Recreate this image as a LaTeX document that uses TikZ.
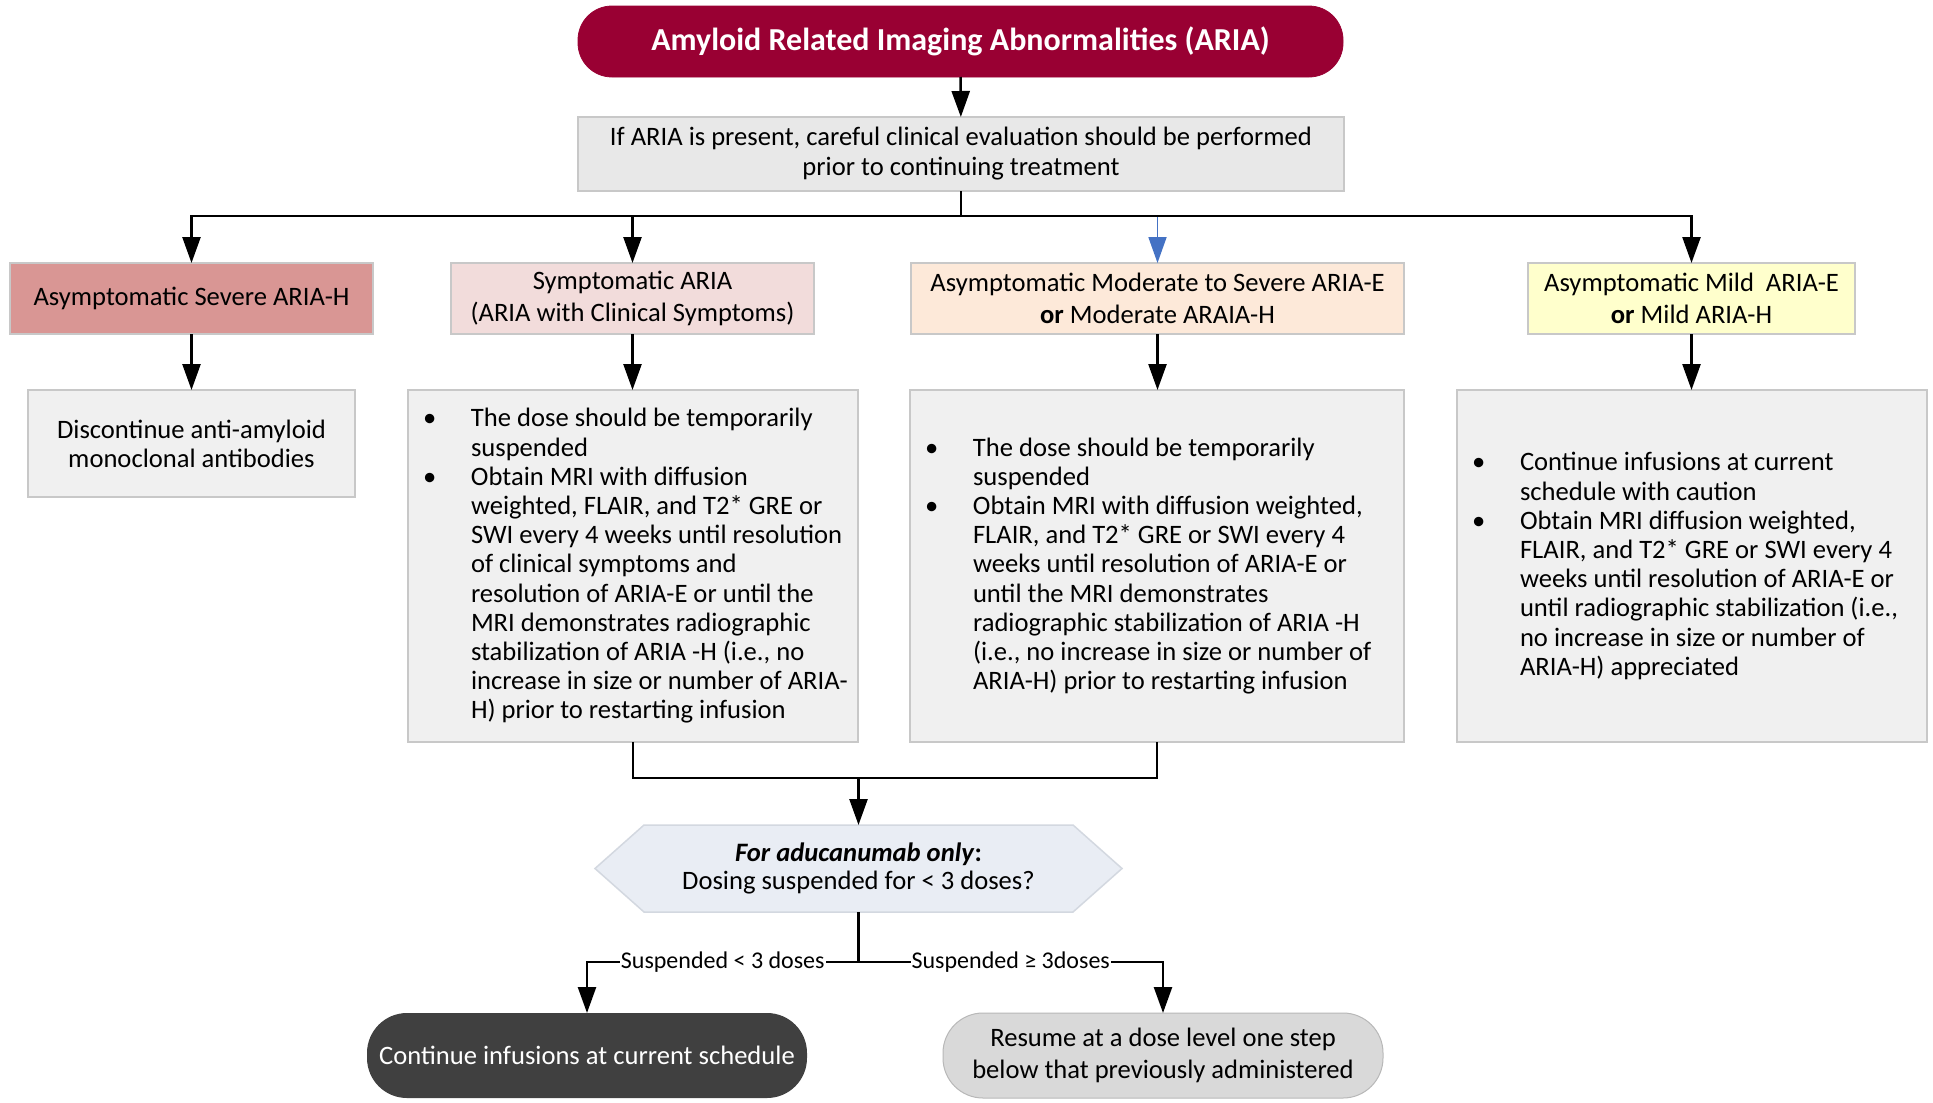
\documentclass[tikz,border=0pt]{standalone}
\usepackage{fontspec}
\setmainfont{Carlito}
\usetikzlibrary{arrows.meta,calc,backgrounds}
\definecolor{titlefill}{HTML}{990033}
\definecolor{evalfill}{HTML}{E8E8E8}
\definecolor{boxline}{HTML}{C8C8C8}
\definecolor{catA}{HTML}{D99694}
\definecolor{catB}{HTML}{F2DCDB}
\definecolor{catC}{HTML}{FDE9D9}
\definecolor{catD}{HTML}{FFFFCC}
\definecolor{contfill}{HTML}{F0F0F0}
\definecolor{hexfill}{HTML}{E9EDF4}
\definecolor{hexline}{HTML}{D3D8E0}
\definecolor{darkfill}{HTML}{404040}
\definecolor{lightfill}{HTML}{D9D9D9}
\definecolor{arrowblue}{HTML}{4472C4}
\newcommand\bl{\makebox[31.5pt][l]{\hspace{7.5pt}•}}
\newcommand\ind{\makebox[31.5pt]{}}
\begin{document}
\begin{tikzpicture}[x=0.5pt,y=-0.5pt,
  every node/.style={inner sep=0pt, outer sep=0pt},
  basebox/.style={rectangle, draw=boxline, line width=0.75pt, align=center, font=\fontsize{13.3}{16}\selectfont},
  titlebox/.style={rectangle, rounded corners=17pt, fill=titlefill, draw=titlefill, text=white, font=\fontsize{16}{19}\selectfont\bfseries},
  evalbox/.style={basebox, fill=evalfill, font=\fontsize{13.3}{15}\selectfont},
  catbox/.style={basebox, minimum height=35.5pt},
  contbox/.style={basebox, fill=contfill},
  bultext/.style={align=left, font=\fontsize{13.3}{14.6}\selectfont},
  endbox/.style={rectangle, rounded corners=20pt, minimum width=220pt, minimum height=42.5pt, align=center, font=\fontsize{13.3}{16}\selectfont},
  conn/.style={line width=1.25pt, draw=black},
  arr/.style={conn, -{Triangle[length=13pt,width=9pt]}},
  arrblue/.style={line width=0.9pt, draw=arrowblue, -{Triangle[length=13pt,width=9pt,fill=arrowblue]}},
  lab/.style={fill=white, inner xsep=0.5pt, inner ysep=1pt, font=\fontsize{12}{14}\selectfont}
]
\useasboundingbox (0,0) rectangle (1933,1103);

% top
\node[titlebox, minimum width=382.5pt, minimum height=35.5pt] (title) at (960.5,41.5) {Amyloid Related Imaging Abnormalities (ARIA)};
\node[evalbox, minimum width=383pt, minimum height=37pt] (eval) at (961,154) {If ARIA is present, careful clinical evaluation should be performed\\prior to continuing treatment};

% categories
\node[catbox, fill=catA, minimum width=181.5pt] (c1) at (191.5,298.5) {Asymptomatic Severe ARIA-H};
\node[catbox, fill=catB, minimum width=181.5pt] (c2) at (632.5,298.5) {Symptomatic ARIA\\(ARIA with Clinical Symptoms)};
\node[catbox, fill=catC, minimum width=246.5pt] (c3) at (1157.5,298.5) {Asymptomatic Moderate to Severe ARIA-E\\\textbf{or} Moderate ARAIA-H};
\node[catbox, fill=catD, minimum width=163.5pt] (c4) at (1691.5,298.5) {Asymptomatic Mild\ \ ARIA-E\\\textbf{or} Mild ARIA-H};

% content boxes
\node[contbox, minimum width=163.5pt, minimum height=53.5pt, font=\fontsize{13.3}{14.5}\selectfont] (d1) at (191.5,443.5) {Discontinue anti-amyloid\\monoclonal antibodies};
\node[contbox, minimum width=225pt, minimum height=176pt] (d2) at (633,566) {};
\node[contbox, minimum width=247pt, minimum height=176pt] (d3) at (1157,566) {};
\node[contbox, minimum width=235pt, minimum height=176pt] (d4) at (1692,566) {};

\node[bultext, anchor=west] (t2) at (d2.west) {\bl The dose should be temporarily\\
\ind suspended\\
\bl Obtain MRI with diffusion\\
\ind weighted, FLAIR, and T2* GRE or\\
\ind SWI every 4 weeks until resolution\\
\ind of clinical symptoms and\\
\ind resolution of ARIA-E or until the\\
\ind MRI demonstrates radiographic\\
\ind stabilization of ARIA -H (i.e., no\\
\ind increase in size or number of ARIA-\\
\ind H) prior to restarting infusion};

\node[bultext, anchor=west] (t3) at (d3.west) {\bl The dose should be temporarily\\
\ind suspended\\
\bl Obtain MRI with diffusion weighted,\\
\ind FLAIR, and T2* GRE or SWI every 4\\
\ind weeks until resolution of ARIA-E or\\
\ind until the MRI demonstrates\\
\ind radiographic stabilization of ARIA -H\\
\ind (i.e., no increase in size or number of\\
\ind ARIA-H) prior to restarting infusion};

\node[bultext, anchor=west] (t4) at (d4.west) {\bl Continue infusions at current\\
\ind schedule with caution\\
\bl Obtain MRI diffusion weighted,\\
\ind FLAIR, and T2* GRE or SWI every 4\\
\ind weeks until resolution of ARIA-E or\\
\ind until radiographic stabilization (i.e.,\\
\ind no increase in size or number of\\
\ind ARIA-H) appreciated};

% decision hexagon
\node[minimum width=263.5pt, minimum height=43.5pt, align=center, font=\fontsize{13.3}{14}\selectfont] (hex) at (858.5,868.5) {\textbf{\textit{For aducanumab only}:}\\Dosing suspended for < 3 doses?};
\begin{scope}[on background layer]
\fill[white] (0,0) rectangle (1933,1103);
\draw[fill=hexfill, draw=hexline, line width=0.75pt] ($(hex.north west)+(49,0)$) -- ($(hex.north east)+(-49,0)$) -- (hex.east) -- ($(hex.south east)+(-49,0)$) -- ($(hex.south west)+(49,0)$) -- (hex.west) -- cycle;
\end{scope}

% end nodes
\node[endbox, fill=darkfill, text=white] (e1) at (587,1055.5) {Continue infusions at current schedule};
\node[endbox, fill=lightfill, draw=lightfill!85!black, line width=0.5pt] (e2) at (1163,1055.5) {Resume at a dose level one step\\below that previously administered};

% connectors
\coordinate (j1) at (961,216);
\draw[arr] (title) -- (eval);
\draw[conn] (eval.south) -- (j1);
\draw[conn] (j1 -| c1.north) -- (j1 -| c4.north);
\draw[arr] (j1) -| (c1.north);
\draw[arr] (j1) -| (c2.north);
\draw[arrblue] (j1 -| c3.north) -- (c3.north);
\draw[arr] (j1) -| (c4.north);

\draw[arr] (c1) -- (d1);
\draw[arr] (c2.south) -- (c2.south |- d2.north);
\draw[arr] (c3.south) -- (c3.south |- d3.north);
\draw[arr] (c4.south) -- (c4.south |- d4.north);

\coordinate (m) at (858.5,778);
\draw[conn] (d2.south) |- (m) -| (d3.south);
\draw[arr] (m) -- (hex.north);

\coordinate (b) at (858.5,962);
\draw[conn] (hex.south) -- (b);
\draw[arr] (b) -| node[lab, pos=0.25] {Suspended < 3 doses} (e1.north);
\draw[arr] (b) -| node[lab, pos=0.25] {Suspended ≥ 3doses} (e2.north);
\end{tikzpicture}
\end{document}
